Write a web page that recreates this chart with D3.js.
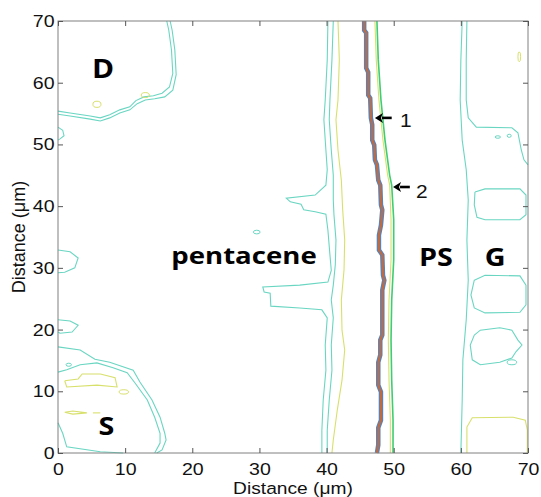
<!DOCTYPE html>
<html>
<head>
<meta charset="utf-8">
<script src="https://cdn.jsdelivr.net/npm/d3@7/dist/d3.min.js"></script>
<style>
body { margin: 0; background: #fff; }
svg { display: block; }
</style>
</head>
<body>
<svg id="chart" width="541" height="497"></svg>
<script>
// tick values (both axes, micrometres)
var xTicks = [0, 10, 20, 30, 40, 50, 60, 70];
var yTicks = [0, 10, 20, 30, 40, 50, 60, 70];

// contour lines, [x, y] in micrometres
// thick boundary line (1)
var mainLine = [[45.6,70],[45.6,68.5],[45.9,68.1],[45.9,62.4],[46.2,61.7],[46.2,58.0],[46.5,57.5],[46.6,54.3],[46.8,53.2],[46.8,50.7],[47.1,49.9],[47.2,47.5],[47.5,46.7],[47.7,44.2],[48.0,43.4],[48.1,40.2],[48.3,39.4],[48.1,36.9],[47.8,35.3],[47.8,32.9],[48.3,32.1],[48.4,28.8],[48.6,28.0],[48.3,26.4],[48.3,19.1],[48.0,18.3],[48.0,15.9],[47.7,14.7],[47.7,11.0],[48.1,9.9],[48.1,5.3],[47.7,4.1],[47.7,1.3],[47.5,0]];

// line (2) and its neighbour
var greenLine = [[47.5,70],[47.7,63.7],[48.1,57.2],[48.7,50.7],[49.4,45.0],[49.7,43.4],[50.0,37.8],[50.0,31.3],[49.7,24.8],[49.6,18.3],[49.7,11.8],[49.9,5.3],[49.9,0]];
var yellowNearGreen = [[47.2,70],[47.4,63.7],[47.8,57.2],[48.4,50.7],[49.1,45.0],[49.4,43.4],[49.6,37.8],[49.6,31.3],[49.3,24.8],[49.2,18.3],[49.3,11.8],[49.5,5.3],[49.5,0]];

// pentacene edge
var cyanA = [[40.2,70],[40.1,63.7],[39.8,57.2],[39.6,54.0],[39.9,49.1],[40.1,45.9],[39.9,43.4],[38.3,41.8],[34.0,41.3],[34.6,40.7],[36.2,40.3],[36.6,39.4],[38.3,39.1],[39.9,38.7],[40.2,36.1],[40.5,32.1],[40.7,29.6],[40.2,27.7],[36.0,27.2],[30.5,26.9],[30.7,26.1],[31.6,25.9],[31.7,23.8],[36.0,23.5],[39.3,23.2],[40.1,21.9],[39.8,17.5],[39.9,13.4],[39.5,8.6],[39.3,3.7],[39.3,0]];
var cyanB = [[41.0,70],[40.8,63.7],[40.5,57.2],[40.4,54.0],[40.7,49.1],[41.0,45.0],[41.0,41.0],[41.1,38.6],[41.4,34.5],[41.3,30.5],[41.0,27.2],[40.7,24.8],[41.0,21.9],[40.7,17.5],[40.8,13.4],[40.4,8.6],[40.1,3.7],[40.1,0]];
var yellowC = [[41.7,70],[41.9,63.7],[41.7,57.2],[41.4,54.0],[41.7,49.1],[42.2,44.2],[42.4,39.4],[42.7,34.5],[42.6,29.7],[42.2,24.8],[42.3,19.9],[42.7,16.7],[42.3,11.8],[41.6,7.0],[41.0,2.1],[40.8,0]];

// drain (D) electrode
var dOuter = [[0,54.9],[1.8,54.6],[4.8,54.1],[6.3,53.8],[7.7,54.3],[9.2,55.1],[10.7,55.6],[11.8,56.6],[13.0,57.2],[14.4,57.4],[15.9,57.7],[17.1,58.8],[17.6,61.3],[17.4,65.3],[17.0,68.5],[16.7,70]];
var dInner = [[0,55.4],[1.8,55.1],[4.8,54.6],[6.3,54.3],[7.7,54.8],[9.2,55.6],[10.7,56.1],[11.6,57.1],[12.8,57.7],[14.2,57.9],[15.5,58.3],[16.6,59.3],[17.1,61.5],[16.9,65.3],[16.5,68.5],[16.2,70]];
var leftBump = [[0,52.8],[0.7,52.3],[0.9,51.4],[0.3,50.9],[0,50.7]];
var leftCurve = [[0,32.9],[1.8,32.6],[3.0,31.6],[2.5,30.0],[1.0,29.3],[0,29.2]];
var leftLoop = [[0,21.6],[1.8,21.4],[3.0,20.7],[2.1,19.6],[0.3,19.4],[0,19.6]];

// source (S) electrode
var sOuter = [[0,17.2],[3.3,16.7],[5.5,15.2],[7.7,14.7],[11.2,13.4],[12.2,11.5],[14.0,8.6],[15.2,5.8],[15.9,3.2],[16.1,2.1],[15.5,0.5],[14.7,0]];
var sInner = [[0,13.1],[1.3,13.5],[3.3,14.3],[5.8,14.6],[8.2,13.8],[10.3,13.0],[11.5,11.3],[13.3,8.6],[14.4,5.8],[15.2,3.2],[15.2,1.6],[14.4,0]];
var sYellow = [[1.0,11.7],[3.0,12.0],[3.6,12.8],[6.3,12.8],[8.5,12.2],[8.8,10.7],[5.8,11.0],[1.3,10.7],[1.0,11.7]];
var sYellowThin = [[1.0,6.6],[2.2,6.8],[4.3,6.5],[2.2,6.3],[1.0,6.6]];
var sYellowDash = [[5.2,6.5],[6.3,6.5]];
var sBottom = [[0,4.9],[0.7,3.2],[1.3,1.0],[6.3,0.2],[9.7,0]];

// gate (G) side
var gLine1 = [[60.2,70],[60.0,63.7],[59.9,57.2],[60.2,50.7],[60.8,45.9],[61.1,41.0],[60.9,34.5],[61.1,28.0],[60.8,21.6],[60.3,15.1],[60.2,8.6],[60.0,0]];
var gLine2 = [[60.9,70],[60.8,63.7],[60.8,57.2],[61.1,54.3],[62.3,52.8],[67.6,52.7],[68.5,51.9],[69.0,49.1],[69.4,47.5],[70,46.7]];
var gLoop1 = [[62.1,42.3],[63.6,42.8],[68.8,42.8],[69.7,41.8],[69.7,38.6],[68.8,37.8],[63.6,37.8],[62.4,38.2],[62.0,40.2],[62.1,42.3]];
var gLoop2 = [[62.0,28.0],[63.6,28.8],[68.8,28.7],[69.7,27.2],[69.7,24.0],[68.8,22.8],[63.6,22.7],[62.0,23.5],[61.5,25.6],[62.0,28.0]];
var gLoop3 = [[62.0,19.1],[62.9,19.9],[65.8,20.3],[67.6,19.9],[68.5,18.3],[69.1,17.5],[68.2,16.4],[67.6,15.4],[65.8,14.7],[62.9,14.3],[61.7,15.1],[61.4,17.5],[62.0,19.1]];
var gYellow = [[60.9,0],[60.9,4.2],[61.7,5.7],[67.8,5.8],[69.6,5.3],[69.9,3.7],[69.9,0]];

// small closed contours: [cx, cy, rx, ry]
var cyanDots = [[29.6,35.8,0.5,0.3],[1.6,14.3,0.4,0.25],[65.5,51.2,0.4,0.2],[67.2,51.4,0.3,0.25],[67.6,14.7,0.7,0.4]];
var yellowDots = [[5.8,56.5,0.6,0.5],[13.0,58.0,0.6,0.4],[9.8,9.9,0.7,0.35],[68.7,64.2,0.2,0.8]];

var cyanLines = [cyanA, cyanB, dOuter, dInner, leftBump, leftCurve, leftLoop, sOuter, sInner, sBottom, gLine1, gLine2, gLoop1, gLoop2, gLoop3];
var yellowLines = [yellowC, yellowNearGreen, sYellow, sYellowThin, sYellowDash, gYellow];

// annotations
var regionLabels = [{t: "D", x: 6.7, y: 60.8, s: 26}, {t: "S", x: 7.2, y: 2.9, s: 25}, {t: "pentacene", x: 27.7, y: 30.6, s: 24}, {t: "PS", x: 56.3, y: 30.3, s: 25}, {t: "G", x: 65.1, y: 30.3, s: 25}];
var arrows = [{t: "1", tip: 47.2, tail: 49.7, y: 54.3, lx: 51.8, ly: 52.8}, {t: "2", tip: 49.9, tail: 52.4, y: 43.1, lx: 54.2, ly: 41.3}];

var svg = d3.select("#chart");

var x = d3.scaleLinear().domain([0, 70]).range([58, 528]);
var y = d3.scaleLinear().domain([0, 70]).range([453, 21]);

var line = d3.line()
    .x(function(d) { return x(d[0]); })
    .y(function(d) { return y(d[1]); });

var plot = svg.append("g");

plot.selectAll("path.cyan")
    .data(cyanLines)
    .enter().append("path")
      .attr("class", "cyan")
      .attr("d", line)
      .attr("fill", "none")
      .attr("stroke", "#6ad6c2")
      .attr("stroke-width", 1.1);

plot.selectAll("path.yellow")
    .data(yellowLines)
    .enter().append("path")
      .attr("class", "yellow")
      .attr("d", line)
      .attr("fill", "none")
      .attr("stroke", "#d8e06c")
      .attr("stroke-width", 1.1);

plot.selectAll("ellipse.cyan")
    .data(cyanDots)
    .enter().append("ellipse")
      .attr("class", "cyan")
      .attr("cx", function(d) { return x(d[0]); })
      .attr("cy", function(d) { return y(d[1]); })
      .attr("rx", function(d) { return x(d[2]) - x(0); })
      .attr("ry", function(d) { return y(0) - y(d[3]); })
      .attr("fill", "none")
      .attr("stroke", "#6ad6c2");

plot.selectAll("ellipse.yellow")
    .data(yellowDots)
    .enter().append("ellipse")
      .attr("class", "yellow")
      .attr("cx", function(d) { return x(d[0]); })
      .attr("cy", function(d) { return y(d[1]); })
      .attr("rx", function(d) { return x(d[2]) - x(0); })
      .attr("ry", function(d) { return y(0) - y(d[3]); })
      .attr("fill", "none")
      .attr("stroke", "#d8e06c");

plot.append("path")
    .attr("d", line(greenLine))
    .attr("fill", "none")
    .attr("stroke", "#3fcd72")
    .attr("stroke-width", 1.6);

// thick line: blue outline, orange core
plot.append("path")
    .attr("d", line(mainLine))
    .attr("fill", "none")
    .attr("stroke", "#5a82b6")
    .attr("stroke-width", 4.5);
plot.append("path")
    .attr("d", line(mainLine))
    .attr("fill", "none")
    .attr("stroke", "#c46a3c")
    .attr("stroke-width", 2);

// frame
svg.append("rect")
    .attr("x", x(0)).attr("y", y(70))
    .attr("width", x(70) - x(0)).attr("height", y(0) - y(70))
    .attr("fill", "none")
    .attr("stroke", "#808080");

function styleAxis(g) {
  g.select(".domain").remove();
  g.selectAll(".tick line").attr("stroke", "#555");
  g.selectAll("text")
      .attr("font-family", "Liberation Sans, Arial, sans-serif")
      .attr("font-size", 17)
      .attr("fill", "#111");
}

svg.append("g")
    .attr("transform", "translate(0," + y(0) + ")")
    .call(d3.axisBottom(x).tickValues(xTicks).tickSizeInner(-5).tickSizeOuter(0).tickPadding(10))
    .call(styleAxis)
    .selectAll("text").attr("transform", "scale(1.15,1)");

svg.append("g")
    .attr("transform", "translate(0," + y(70) + ")")
    .call(d3.axisTop(x).tickValues(xTicks).tickSizeInner(-5).tickSizeOuter(0).tickFormat(""))
    .call(styleAxis);

svg.append("g")
    .attr("transform", "translate(" + x(0) + ",0)")
    .call(d3.axisLeft(y).tickValues(yTicks).tickSizeInner(-5).tickSizeOuter(0).tickPadding(3))
    .call(styleAxis)
    .selectAll("text").attr("transform", "scale(1.15,1)");

svg.append("g")
    .attr("transform", "translate(" + x(70) + ",0)")
    .call(d3.axisRight(y).tickValues(yTicks).tickSizeInner(-5).tickSizeOuter(0).tickFormat(""))
    .call(styleAxis);

// axis titles
svg.append("text")
    .attr("transform", "translate(" + ((x(0) + x(70)) / 2) + ",494) scale(1.13,1)")
    .attr("text-anchor", "middle")
    .attr("font-family", "Liberation Sans, Arial, sans-serif")
    .attr("font-size", 17)
    .attr("fill", "#111")
    .text("Distance (\u03bcm)");

svg.append("text")
    .attr("transform", "translate(25," + ((y(0) + y(70)) / 2) + ") rotate(-90)")
    .attr("text-anchor", "middle")
    .attr("font-family", "Liberation Sans, Arial, sans-serif")
    .attr("font-size", 18)
    .attr("fill", "#111")
    .text("Distance (\u03bcm)");

// region labels
svg.selectAll("text.region")
    .data(regionLabels)
    .enter().append("text")
      .attr("class", "region")
      .attr("transform", function(d) { return "translate(" + x(d.x) + "," + y(d.y) + ") scale(1.15,1)"; })
      .attr("text-anchor", "middle")
      .attr("font-family", "Open Sans, sans-serif")
      .attr("font-weight", "bold")
      .attr("font-size", function(d) { return d.s; })
      .attr("fill", "#000")
      .text(function(d) { return d.t; });

// arrows 1 and 2: shaft + filled head
var headLen = 8, headHalf = 5;
svg.selectAll("line.arrow")
    .data(arrows)
    .enter().append("line")
      .attr("class", "arrow")
      .attr("x1", function(d) { return x(d.tail); })
      .attr("x2", function(d) { return x(d.tip) + headLen - 1; })
      .attr("y1", function(d) { return y(d.y); })
      .attr("y2", function(d) { return y(d.y); })
      .attr("stroke", "#000")
      .attr("stroke-width", 2.6);

svg.selectAll("path.head")
    .data(arrows)
    .enter().append("path")
      .attr("class", "head")
      .attr("d", function(d) {
        var tx = x(d.tip), ty = y(d.y);
        return "M" + tx + "," + ty + "L" + (tx + headLen) + "," + (ty - headHalf) +
               "L" + (tx + headLen - 2) + "," + ty + "L" + (tx + headLen) + "," + (ty + headHalf) + "Z";
      })
      .attr("fill", "#000");

svg.selectAll("text.arrowlabel")
    .data(arrows)
    .enter().append("text")
      .attr("class", "arrowlabel")
      .attr("transform", function(d) { return "translate(" + x(d.lx) + "," + y(d.ly) + ") scale(1.1,1)"; })
      .attr("text-anchor", "middle")
      .attr("font-family", "Liberation Sans, Arial, sans-serif")
      .attr("font-size", 19)
      .attr("fill", "#111")
      .text(function(d) { return d.t; });
</script>
</body>
</html>
